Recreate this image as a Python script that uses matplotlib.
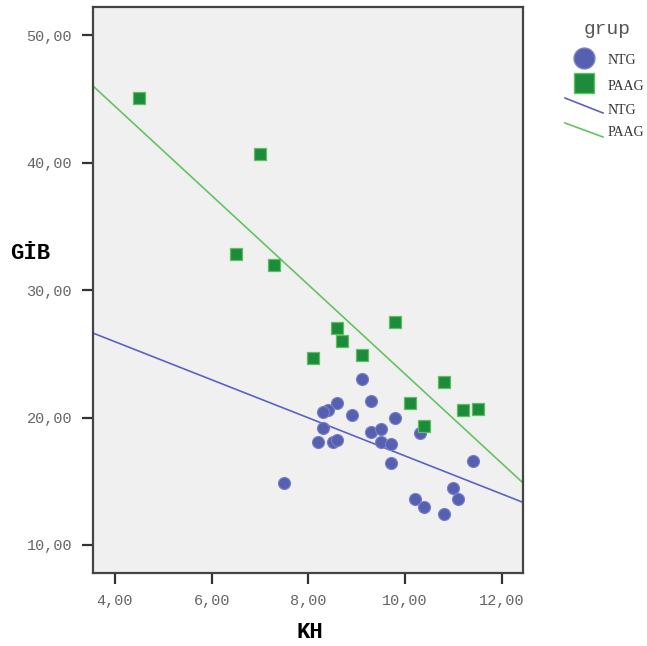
import numpy as np
import matplotlib.pyplot as plt
from matplotlib.lines import Line2D
from matplotlib.ticker import FuncFormatter

# NTG group
ntg_kh = [9.1, 8.6, 8.4, 8.3, 9.3, 8.9, 9.8, 8.3, 9.3, 9.5, 10.3, 8.2,
          8.5, 8.6, 9.5, 9.7, 9.7, 11.4, 7.5, 11.0, 11.1, 10.2, 10.4, 10.8]
ntg_gib = [23.0, 21.1, 20.6, 20.4, 21.3, 20.2, 20.0, 19.15, 18.9, 19.1, 18.8, 18.1,
           18.1, 18.25, 18.1, 17.9, 16.4, 16.6, 14.9, 14.5, 13.6, 13.6, 13.0, 12.4]

# PAAG group
paag_kh = [4.5, 7.0, 6.5, 7.3, 8.6, 8.7, 8.1, 9.1, 9.8, 10.8, 10.1, 11.2, 11.5, 10.4]
paag_gib = [45.1, 40.7, 32.8, 32.0, 27.0, 26.0, 24.7, 24.9, 27.5, 22.8, 21.1, 20.6, 20.7, 19.3]

xticks = [4, 6, 8, 10, 12]
yticks = [10, 20, 30, 40, 50]

blue = "#5560b0"
green = "#1c8b3c"
blue_line = "#5a62c4"
green_line = "#62c462"
mono = "Liberation Mono"
serif = "Liberation Serif"

fig = plt.figure(figsize=(6.47, 6.46), dpi=100)
ax = fig.add_axes([0.1437, 0.113, 0.6646, 0.876])
ax.set_facecolor("#f0f0f0")

xlim = (3.545, 12.44)
ax.set_xlim(xlim)
ax.set_ylim(7.8, 52.2)

ax.scatter(ntg_kh, ntg_gib, s=75, c=blue, edgecolors="#7a80c8", linewidths=0.8, zorder=3)
ax.scatter(paag_kh, paag_gib, s=70, marker="s", c=green, edgecolors="#5cc05c", linewidths=0.9, zorder=3)

xs = np.array(xlim)
k, b = np.polyfit(ntg_kh, ntg_gib, 1)
ax.plot(xs, k * xs + b, color=blue_line, lw=1.2, zorder=2)
k, b = np.polyfit(paag_kh, paag_gib, 1)
ax.plot(xs, k * xs + b, color=green_line, lw=1.2, zorder=2)

ax.set_xticks(xticks)
ax.set_yticks(yticks)
fmt = FuncFormatter(lambda v, p: f"{v:.2f}".replace(".", ","))
ax.xaxis.set_major_formatter(fmt)
ax.yaxis.set_major_formatter(fmt)
ax.tick_params(direction="out", length=8, width=1.6, color="#333333",
               labelcolor="#666666", labelsize=11, pad=7)
for lab in ax.get_xticklabels() + ax.get_yticklabels():
    lab.set_family(mono)
for sp in ax.spines.values():
    sp.set_linewidth(1.6)
    sp.set_color("#444444")

fig.text(30 / 647, 1 - 253 / 646, "GİB", family=mono, weight="bold", fontsize=16,
         ha="center", va="center")
fig.text(310 / 647, 1 - 632 / 646, "KH", family=mono, weight="bold", fontsize=16,
         ha="center", va="center")

# legend, drawn at the right of the axes
def px(x, y):
    return x / 647, 1 - y / 646

fig.text(*px(607, 30), "grup", family=mono, fontsize=14, color="#555555", ha="center", va="center")
fig.add_artist(Line2D([px(584, 58)[0]], [px(584, 58)[1]], marker="o", markersize=15,
                      color=blue, markeredgecolor="#7a80c8", transform=fig.transFigure))
fig.add_artist(Line2D([px(584, 83)[0]], [px(584, 83)[1]], marker="s", markersize=14,
                      color=green, markeredgecolor="#5cc05c", transform=fig.transFigure))
for (y0, y1), c in [((98, 113), blue_line), ((123, 137), green_line)]:
    a, b0 = px(565, y0)
    c1, d = px(603, y1)
    fig.add_artist(Line2D([a, c1], [b0, d], color=c, lw=1.2, transform=fig.transFigure))
for y, t in [(60, "NTG"), (86, "PAAG"), (110, "NTG"), (132, "PAAG")]:
    fig.text(*px(608, y), t, family=serif, fontsize=10, color="#333333", ha="left", va="center")

fig.savefig("out.png", dpi=100)
